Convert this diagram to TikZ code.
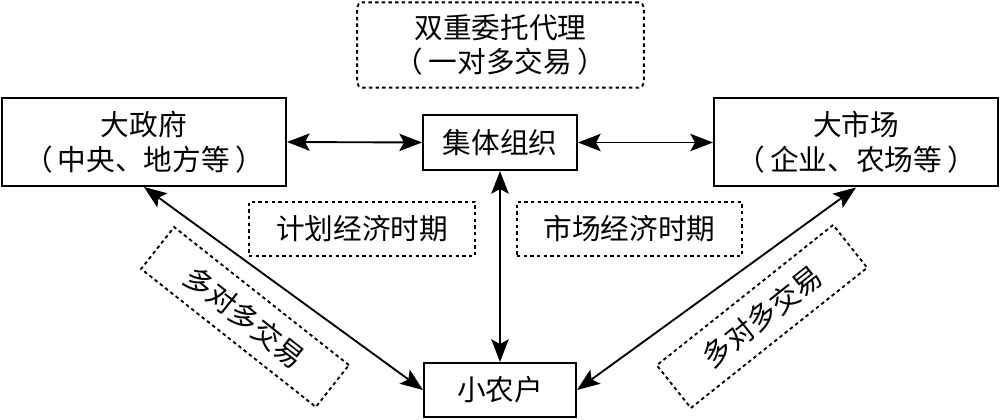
\documentclass[tikz,border=0pt]{standalone}
\usepackage{fontspec}
\setmainfont{Noto Sans CJK SC}
\usetikzlibrary{arrows.meta}
\newcommand{\ps}{\hspace{4pt}}
\begin{document}
\begin{tikzpicture}[x=0.75pt,y=-0.75pt,
  every node/.style={font=\fontsize{21.5pt}{26pt}\selectfont, inner sep=0pt, align=center},
  solidbox/.style={draw, line width=1.5pt, fill=white},
  dashbox/.style={draw, line width=1.4pt, dash pattern=on 2.6pt off 2.4pt},
  arr/.style={line width=1.4pt, {Stealth[length=17pt,width=13pt,inset=3.5pt]}-{Stealth[length=17pt,width=13pt,inset=3.5pt]}}]
\useasboundingbox (0,0) rectangle (1000,420);
% main boxes
\node[solidbox, minimum width=213pt, minimum height=66pt] (gov) at (144,142) {大政府\\（\ps 中央、地方等\ps ）};
\node[solidbox, minimum width=213pt, minimum height=66pt] (mkt) at (856,142.5) {大市场\\（\ps 企业、农场等\ps ）};
\node[solidbox, minimum width=115.5pt, minimum height=41.25pt] (col) at (500,142.5) {集体组织};
\node[solidbox, minimum width=114pt, minimum height=40.5pt] (farm) at (500,390) {小农户};
% dashed labels
\node[dashbox, rounded corners=4pt, minimum width=215pt, minimum height=64pt] (dual) at (500.5,45) {双重委托代理\\（\ps 一对多交易\ps ）};
\node[dashbox, minimum width=169.5pt, minimum height=40.5pt] (plan) at (362,229) {计划经济时期};
\node[dashbox, minimum width=168.75pt, minimum height=40.5pt] (mktera) at (629.5,229) {市场经济时期};
\node[dashbox, rotate=-38.3, minimum width=167pt, minimum height=40pt] (ml) at (245,317) {多对多交易};
\node[dashbox, rotate=38.5, minimum width=169pt, minimum height=41pt] (mr) at (762,316.5) {多对多交易};
% connectors
\draw[arr] (gov.east) -- (col.west);
\draw[arr] (col.east) -- (mkt.west);
\draw[arr] (col.south) -- (farm.north);
\draw[arr] (gov.south) -- (farm.west);
\draw[arr] (mkt.south) -- (farm.east);
\end{tikzpicture}
\end{document}
